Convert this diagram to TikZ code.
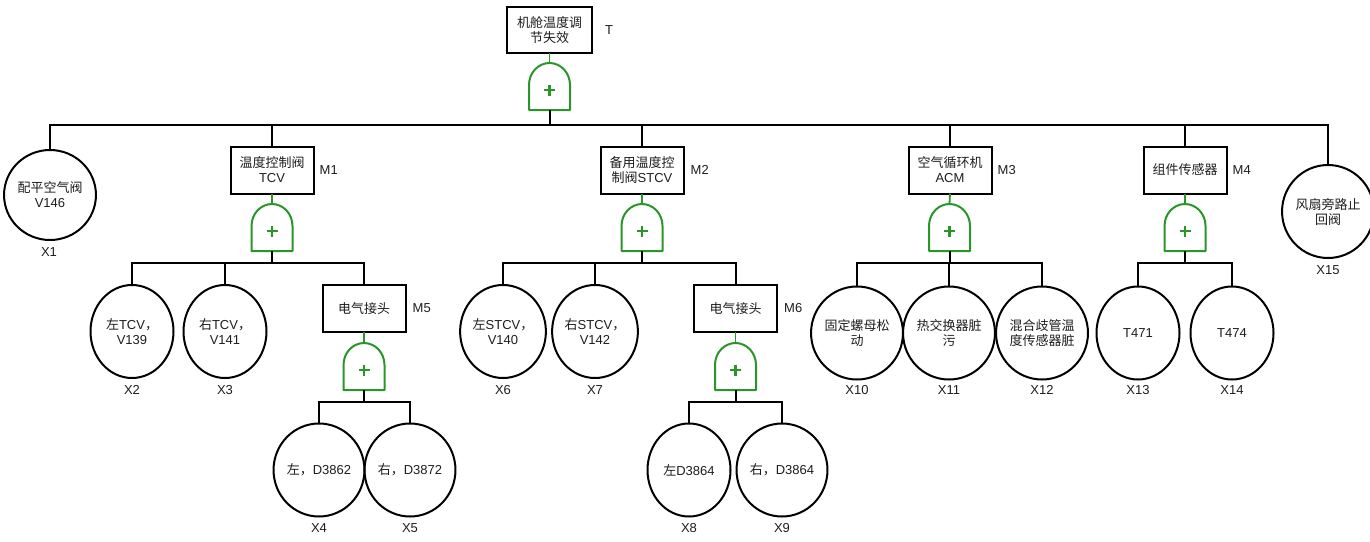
\documentclass[tikz,border=0pt]{standalone}
\usepackage{fontspec}
\setmainfont{Liberation Sans}
\newfontfamily\cjk{Noto Sans CJK SC}
\usetikzlibrary{shapes.geometric}
\definecolor{gatecol}{RGB}{40,150,40}
\definecolor{txt}{RGB}{30,30,30}
\newcommand{\zh}[1]{{\cjk #1}}
\tikzset{
  x=1pt, y=-1pt,
  txtfont/.style={font=\fontsize{13}{15}\selectfont, text=txt},
  evt/.style={draw, line width=2pt, minimum width=83pt, minimum height=47pt,
    inner sep=0pt, outer sep=0pt, align=center, txtfont},
  basic/.style={draw, ellipse, line width=2pt, minimum width=83pt, minimum height=93pt,
    inner sep=0pt, outer sep=0pt, align=center, txtfont},
  tag/.style={txtfont, inner sep=0pt},
  conn/.style={line width=2pt},
  gconn/.style={line width=1.8pt, draw=gatecol},
  orgate/.pic={
    \draw[draw=gatecol, line width=2pt, line join=round]
      (-20.5,47) -- (-20.5,22) .. controls (-20.5,9.8) and (-11.3,0) .. (0,0)
      .. controls (11.3,0) and (20.5,9.8) .. (20.5,22) -- (20.5,47) -- cycle;
    \draw[draw=gatecol, line width=2.4pt] (-5.5,27) -- (5.5,27) (0,21.5) -- (0,32.5);
    \coordinate (-top) at (0,0);
    \coordinate (-bot) at (0,47);
  }
}
\begin{document}
\begin{tikzpicture}
\fill[white] (0,0) rectangle (1370,541);
\useasboundingbox (0,0) rectangle (1370,541);

% ---- top event
\node[evt, minimum width=85pt, minimum height=46pt] (T) at (549.5,30) {\zh{机舱温度调}\\\zh{节失效}};
\node[tag, anchor=west] (lT) at ([xshift=13pt]T.east) {T};
\pic (gT) at (549.5,63) {orgate};
\draw[gconn] (T.south) -- (gT-top);

% ---- level 1
\node[basic, minimum width=86pt, minimum height=90pt] (X1) at (50,195) {\zh{配平空气阀}\\V146};
\node[tag] (lX1) at (49,252) {X1};

\node[evt] (M1) at (272,170) {\zh{温度控制阀}\\TCV};
\node[tag, anchor=west] (lM1) at ([xshift=6pt]M1.east) {M1};
\node[evt] (M2) at (642,170) {\zh{备用温度控}\\\zh{制阀}STCV};
\node[tag, anchor=west] (lM2) at ([xshift=7pt]M2.east) {M2};
\node[evt] (M3) at (950,170) {\zh{空气循环机}\\ACM};
\node[tag, anchor=west] (lM3) at ([xshift=6pt]M3.east) {M3};
\node[evt] (M4) at (1185,170) {\zh{组件传感器}};
\node[tag, anchor=west] (lM4) at ([xshift=6pt]M4.east) {M4};

\node[basic] (X15) at (1328,211.5) {\zh{风扇旁路止}\\\zh{回阀}};
\node[tag] (lX15) at (1328,270) {X15};

\foreach \c in {X1,M1,M2,M3,M4,X15}
  \draw[conn] (gT-bot) -- ++(0,15) -| (\c.north);

% ---- gates under M1..M4
\pic (g1) at (272,204) {orgate};
\pic (g2) at (642,204) {orgate};
\pic (g3) at (949.5,204) {orgate};
\pic (g4) at (1185,204) {orgate};
\draw[gconn] (M1.south) -- (g1-top);
\draw[gconn] (M2.south) -- (g2-top);
\draw[gconn] (M3.south) -- (g3-top);
\draw[gconn] (M4.south) -- (g4-top);

% ---- level 2
\node[basic] (X2) at (132,331.5) {\zh{左}TCV\zh{，}\\V139};
\node[tag] (lX2) at (132,390) {X2};
\node[basic] (X3) at (225,331.5) {\zh{右}TCV\zh{，}\\V141};
\node[tag] (lX3) at (225,390) {X3};
\node[evt] (M5) at (364,308.5) {\zh{电气接头}};
\node[tag, anchor=west] (lM5) at ([xshift=7pt]M5.east) {M5};

\node[basic] (X6) at (503,331.5) {\zh{左}STCV\zh{，}\\V140};
\node[tag] (lX6) at (503,390) {X6};
\node[basic] (X7) at (595,331.5) {\zh{右}STCV\zh{，}\\V142};
\node[tag] (lX7) at (595,390) {X7};
\node[evt] (M6) at (735.5,308.5) {\zh{电气接头}};
\node[tag, anchor=west] (lM6) at ([xshift=7pt]M6.east) {M6};

\node[basic] (X10) at (857,333) {\zh{固定螺母松}\\\zh{动}};
\node[tag] (lX10) at (857,390) {X10};
\node[basic] (X11) at (949,333) {\zh{热交换器脏}\\\zh{污}};
\node[tag] (lX11) at (949,390) {X11};
\node[basic] (X12) at (1042,333) {\zh{混合歧管温}\\\zh{度传感器脏}};
\node[tag] (lX12) at (1042,390) {X12};

\node[basic] (X13) at (1138,333) {T471};
\node[tag] (lX13) at (1138,390) {X13};
\node[basic] (X14) at (1232,333) {T474};
\node[tag] (lX14) at (1232,390) {X14};

\foreach \c in {X2,X3,M5} \draw[conn] (g1-bot) -- ++(0,12) -| (\c.north);
\foreach \c in {X6,X7,M6} \draw[conn] (g2-bot) -- ++(0,12) -| (\c.north);
\foreach \c in {X10,X11,X12} \draw[conn] (g3-bot) -- ++(0,12) -| (\c.north);
\foreach \c in {X13,X14} \draw[conn] (g4-bot) -- ++(0,12) -| (\c.north);

% ---- gates under M5, M6
\pic (g5) at (364,343) {orgate};
\pic (g6) at (735.5,343) {orgate};
\draw[gconn] (M5.south) -- (g5-top);
\draw[gconn] (M6.south) -- (g6-top);

% ---- level 3
\node[basic] (X4) at (319,470) {\zh{左，}D3862};
\node[tag] (lX4) at (319,528) {X4};
\node[basic] (X5) at (410,470) {\zh{右，}D3872};
\node[tag] (lX5) at (410,528) {X5};
\node[basic] (X8) at (689,470) {\zh{左}D3864};
\node[tag] (lX8) at (689,528) {X8};
\node[basic] (X9) at (782,470) {\zh{右，}D3864};
\node[tag] (lX9) at (782,528) {X9};

\foreach \c in {X4,X5} \draw[conn] (g5-bot) -- ++(0,12) -| (\c.north);
\foreach \c in {X8,X9} \draw[conn] (g6-bot) -- ++(0,12) -| (\c.north);
\end{tikzpicture}
\end{document}
